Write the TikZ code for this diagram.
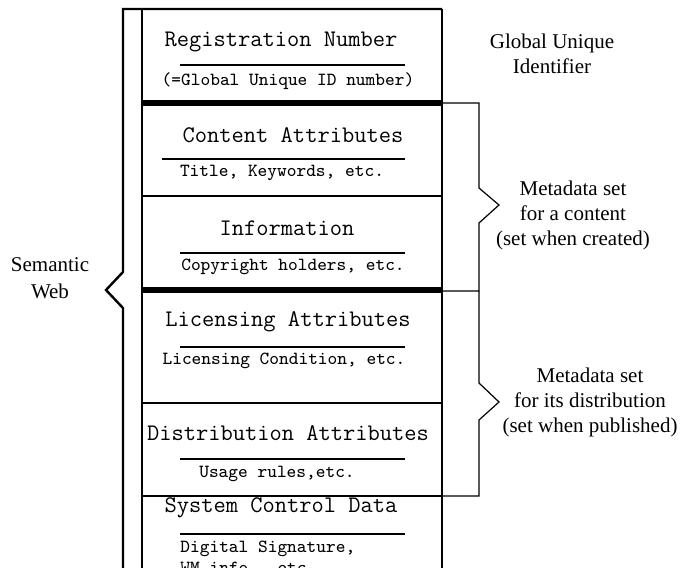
\documentclass[tikz,border=0pt]{standalone}
\usepackage{fontspec}
\setmainfont{Liberation Serif}
\usepackage{tikz}

\begin{document}
\begin{tikzpicture}[x=0.5pt,y=-0.5pt,
		head/.style={font=\ttfamily\fontsize{11.9}{13}\selectfont,inner sep=0pt},
		sub/.style={font=\ttfamily\fontsize{9.25}{10.5}\selectfont,inner sep=0pt},
		note/.style={font=\fontsize{10.5}{12.5}\selectfont,align=center,inner sep=0pt},
		rule/.style={line width=0.7pt},
		bar/.style={line width=3pt},
		brace/.style={line width=0.6pt,line join=miter}]
		
		\useasboundingbox (0,0) rectangle (681,568);
		\clip (0,0) rectangle (681,568);
		
		% frame and layer borders
		\draw[line width=1.2pt,line join=miter] (123,580) -- (123,308) -- (106,290) -- (123,272) -- (123,9) -- (442,9);
		\draw[line width=1pt] (142,9) -- (142,580) (442,9) -- (442,580);
		\draw[bar] (142,103) -- (442,103);
		\draw[line width=1pt] (142,196) -- (442,196);
		\draw[bar] (142,290) -- (442,290);
		\draw[line width=1pt] (142,403) -- (442,403) (142,496) -- (442,496);
		
		\node[head](reg) at (281,42) {Registration Number};
		\node[sub](regsub) at (288,81) {(=Global Unique ID number)};
		\node[head](cont) at (293,135) {Content Attributes};
		\node[sub](contsub) at (282,173) {Title, Keywords, etc.};
		\node[head](info) at (287,228) {Information};
		\node[sub](infosub) at (293,267) {Copyright holders, etc.};
		\node[head](lic) at (288,322) {Licensing Attributes};
		\node[sub](licsub) at (284,361) {Licensing Condition, etc.};
		\node[head](dist) at (288,433) {Distribution Attributes};
		\node[sub](distsub) at (277,474) {Usage rules,etc.};
		\node[head](sys) at (281,508) {System Control Data};
		\node[sub,anchor=north west,align=left](syssub) at (180,541) {Digital Signature,\\WM info., etc.};
		
		\draw[rule] (180,65) -- (405,65) (162,159) -- (405,159) (180,253) -- (405,253)
		(180,347) -- (405,347) (180,459) -- (405,459) (180,534) -- (405,534);
		
		% braces on the right
		\draw[brace] (442,103) -- (479,103) -- (479,188) -- (499,205) -- (479,223) -- (479,291) -- (442,291);
		\draw[brace] (479,291) -- (479,383) -- (499,402) -- (479,420) -- (479,496) -- (442,496);
		
		\node[note](guid) at (552,54) {Global Unique\\Identifier};
		\node[note](meta1) at (573,215) {Metadata set\\for a content\\(set when created)};
		\node[note](meta2) at (590,402) {Metadata set\\for its distribution\\(set when published)};
		\node[note,font=\fontsize{10.5}{13.5}\selectfont](sw) at (50,278) {Semantic\\Web};
		
	\end{tikzpicture}
\end{document}
